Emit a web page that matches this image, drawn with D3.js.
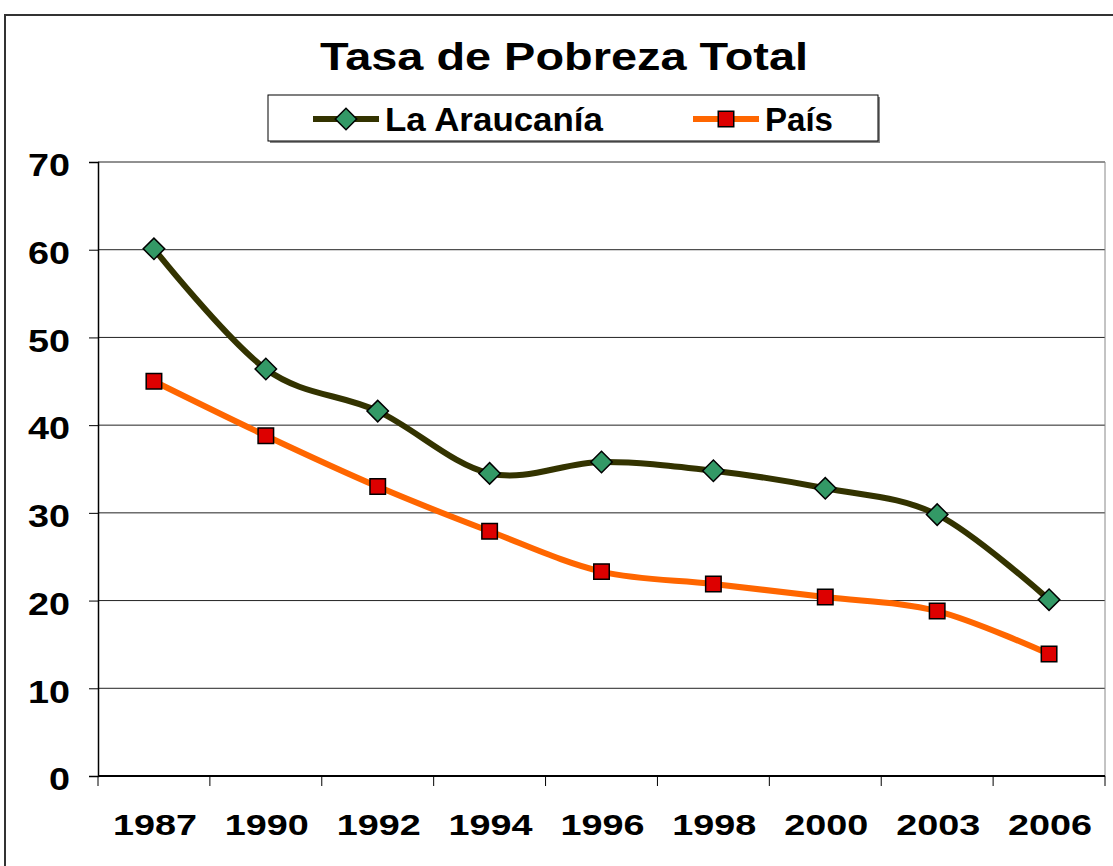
<!DOCTYPE html>
<html>
<head>
<meta charset="utf-8">
<script src="https://cdn.jsdelivr.net/npm/d3@7"></script>
<style>
  body { margin: 0; background: #fff; }
  svg { display: block; }
  text { font-family: "Liberation Sans", Arial, sans-serif; font-weight: bold; fill: #000; }
</style>
</head>
<body>
<div id="chart"></div>
<script>
// chart data
const years = ['1987', '1990', '1992', '1994', '1996', '1998', '2000', '2003', '2006'];
const araucania = [60.1, 46.4, 41.6, 34.5, 35.8, 34.8, 32.8, 29.8, 20.1];
const pais = [45.0, 38.8, 33.0, 27.9, 23.3, 21.9, 20.4, 18.8, 13.9];
const yTicks = [0, 10, 20, 30, 40, 50, 60, 70];

const W = 1113, H = 866;
const margin = {top: 162, right: 8, bottom: 90, left: 98};
const innerW = W - margin.left - margin.right;
const innerH = H - margin.top - margin.bottom;

const svg = d3.select('#chart').append('svg')
  .attr('width', W)
  .attr('height', H);

// outer chart frame (cut off at right and bottom like the original)
svg.append('path')
  .attr('d', 'M5,' + H + 'V15H' + W)
  .attr('fill', 'none')
  .attr('stroke', '#333')
  .attr('stroke-width', 2);

// the original text is wide, so fit it to the measured width
svg.append('text')
  .attr('x', 320).attr('y', 70)
  .attr('font-size', 38)
  .attr('textLength', 488)
  .attr('lengthAdjust', 'spacingAndGlyphs')
  .text('Tasa de Pobreza Total');

const x = d3.scaleBand().domain(years).range([0, innerW]);
const y = d3.scaleLinear().domain([0, 70]).range([innerH, 0]);

const g = svg.append('g')
  .attr('transform', 'translate(' + margin.left + ',' + margin.top + ')');

// gridlines
g.append('g').selectAll('line').data(yTicks.filter(d => d > 0))
  .enter().append('line')
  .attr('x1', 0).attr('x2', innerW)
  .attr('y1', d => y(d)).attr('y2', d => y(d))
  .attr('stroke', '#222')
  .attr('stroke-width', 1);

// right border of plot area
g.append('line')
  .attr('x1', innerW).attr('x2', innerW)
  .attr('y1', 0).attr('y2', innerH)
  .attr('stroke', '#888');

// y axis
const yAxis = g.append('g')
  .call(d3.axisLeft(y).tickValues(yTicks).tickSize(9).tickPadding(19));
yAxis.select('.domain').attr('stroke', '#000').attr('stroke-width', 1.5);
yAxis.selectAll('.tick line').attr('stroke', '#000');
yAxis.selectAll('text')
  .attr('font-size', 32)
  .attr('font-family', null)
  .attr('dy', '0.43em')
  .attr('textLength', d => String(d).length * 21)
  .attr('lengthAdjust', 'spacingAndGlyphs');

// x axis, ticks between categories
const xAxis = g.append('g').attr('transform', 'translate(0,' + innerH + ')');
xAxis.append('line')
  .attr('x1', 0).attr('x2', innerW)
  .attr('stroke', '#000').attr('stroke-width', 2);
xAxis.selectAll('.xtick').data(years.concat(['end']))
  .enter().append('line')
  .attr('x1', (d, i) => i * x.step()).attr('x2', (d, i) => i * x.step())
  .attr('y1', 0).attr('y2', 10)
  .attr('stroke', '#000');
xAxis.selectAll('.xlab').data(years)
  .enter().append('text')
  .attr('x', d => x(d) + x.bandwidth() / 2 - 41)
  .attr('y', 59)
  .attr('font-size', 30)
  .attr('textLength', 84)
  .attr('lengthAdjust', 'spacingAndGlyphs')
  .text(d => d);

const cx = d => x(d) + x.bandwidth() / 2;
const line = d3.line()
  .x((d, i) => cx(years[i]))
  .y(d => y(d))
  .curve(d3.curveCatmullRom.alpha(0));

g.append('path').datum(pais)
  .attr('d', line)
  .attr('fill', 'none')
  .attr('stroke', '#ff6600')
  .attr('stroke-width', 6);

g.append('path').datum(araucania)
  .attr('d', line)
  .attr('fill', 'none')
  .attr('stroke', '#333300')
  .attr('stroke-width', 6);

const diamond = d3.symbol().type(d3.symbolSquare).size(230)();
const square = d3.symbol().type(d3.symbolSquare).size(240)();

g.selectAll('.pm').data(pais)
  .enter().append('path')
  .attr('d', square)
  .attr('transform', (d, i) => 'translate(' + cx(years[i]) + ',' + y(d) + ')')
  .attr('fill', '#dd0000')
  .attr('stroke', '#000')
  .attr('stroke-width', 1.5);

g.selectAll('.am').data(araucania)
  .enter().append('path')
  .attr('d', diamond)
  .attr('transform', (d, i) => 'translate(' + cx(years[i]) + ',' + y(d) + ') rotate(45)')
  .attr('fill', '#339966')
  .attr('stroke', '#000')
  .attr('stroke-width', 1.5);

// legend
const legend = svg.append('g');
legend.append('rect')
  .attr('x', 270).attr('y', 97).attr('width', 610).attr('height', 46)
  .attr('fill', '#888');
legend.append('rect')
  .attr('x', 268).attr('y', 95).attr('width', 610).attr('height', 46)
  .attr('fill', '#fff')
  .attr('stroke', '#000');

const legendItems = [
  {name: 'La Araucanía', color: '#333300', fill: '#339966', shape: diamond, rot: 45, x0: 313, w: 218},
  {name: 'País', color: '#ff6600', fill: '#dd0000', shape: square, rot: 0, x0: 693, w: 68}
];
legendItems.forEach(it => {
  legend.append('line')
    .attr('x1', it.x0).attr('x2', it.x0 + 66)
    .attr('y1', 119).attr('y2', 119)
    .attr('stroke', it.color).attr('stroke-width', 6);
  legend.append('path')
    .attr('d', it.shape)
    .attr('transform', 'translate(' + (it.x0 + 33) + ',119) rotate(' + it.rot + ')')
    .attr('fill', it.fill)
    .attr('stroke', '#000').attr('stroke-width', 1.5);
  legend.append('text')
    .attr('x', it.x0 + 72).attr('y', 131)
    .attr('font-size', 33)
    .attr('textLength', it.w)
    .attr('lengthAdjust', 'spacingAndGlyphs')
    .text(it.name);
});
</script>
</body>
</html>
